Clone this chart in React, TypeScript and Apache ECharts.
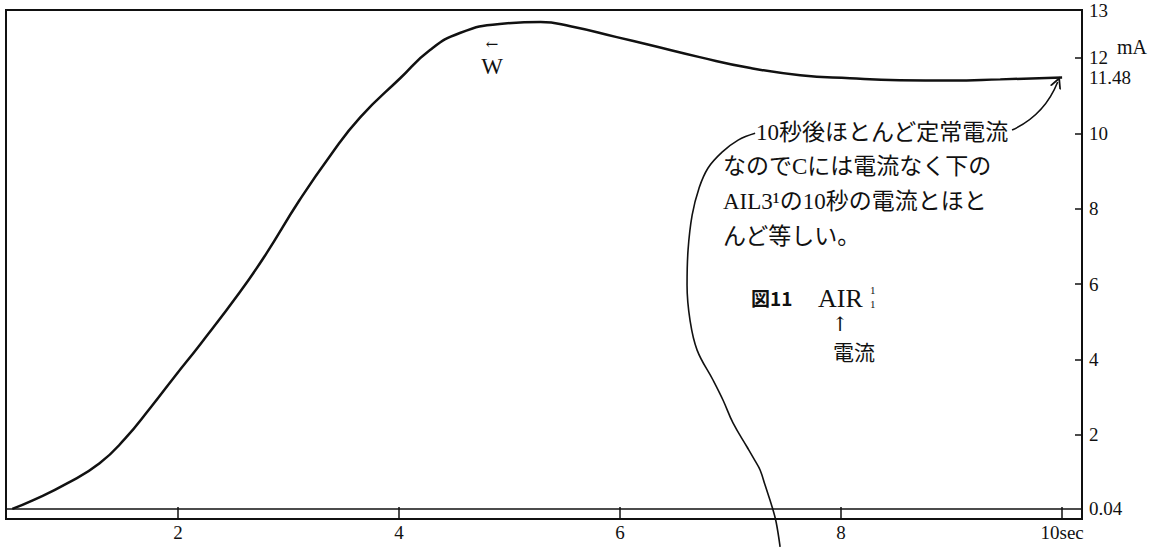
import React, { useEffect, useRef } from "react";
import * as echarts from "echarts";

// Current through AIR (mA) against time (sec)
const timeSec = [0.5, 0.69, 1.0, 1.29, 1.52, 1.75, 1.97, 2.2, 2.56, 2.79, 3.1, 3.38, 3.65, 4.01, 4.28, 4.55, 4.91, 5.28, 5.55, 5.97, 6.27, 6.72, 7.18, 7.63, 8.08, 8.53, 8.99, 9.44, 10.0];
const currentMA = [0.04, 0.27, 0.72, 1.25, 1.9, 2.72, 3.55, 4.4, 5.79, 6.77, 8.23, 9.42, 10.43, 11.46, 12.21, 12.66, 12.9, 12.95, 12.84, 12.55, 12.34, 12.02, 11.73, 11.54, 11.46, 11.41, 11.4, 11.43, 11.48];

// Hand-drawn leader line from the note down past the time axis
const leaderX = [7.222, 7.068, 6.923, 6.796, 6.715, 6.652, 6.615, 6.606, 6.633, 6.697, 6.842, 6.932, 7.023, 7.149, 7.222, 7.267, 7.312, 7.376, 7.412, 7.448];
const leaderY = [10.0, 9.82, 9.5, 9.08, 8.55, 7.83, 6.9, 5.97, 5.04, 4.25, 3.45, 2.92, 2.31, 1.68, 1.31, 1.07, 0.67, 0.09, -0.31, -0.97];

// Curved arrow from the note to the 10 sec value
const arrowFrom = [9.547, 10.085];
const arrowTo = [9.96, 11.36];

const xTicks = [2, 4, 6, 8, 10];
const yTicks = [2, 4, 6, 8, 10, 12];
const yLabels = [0.04, 2, 4, 6, 8, 10, 11.48, 12, 13.27];
const baseline = 0.04;

const SERIF = "'Liberation Serif', 'DejaVu Serif', serif";
const JP = "'Liberation Serif', 'Noto Sans CJK JP', serif";

const noteLines = [
  "10秒後ほとんど定常電流",
  "なのでCには電流なく下の",
  "AIL3¹の10秒の電流とほと",
  "んど等しい。",
];

export default function App() {
  const ref = useRef<HTMLDivElement>(null);

  useEffect(() => {
    if (!ref.current) return;
    const chart = echarts.init(ref.current, undefined, { renderer: "svg" });

    const txt = (text: string, x: number, y: number, extra: any = {}) => ({
      type: "text",
      x,
      y,
      silent: true,
      style: {
        text,
        fill: "#111",
        fontFamily: JP,
        fontSize: 23,
        align: "left",
        verticalAlign: "middle",
        ...extra,
      },
    });

    chart.setOption({
      animation: false,
      backgroundColor: "#fff",
      grid: {
        left: 6,
        right: 82,
        top: 10,
        bottom: 29,
        show: true,
        borderColor: "#111",
        borderWidth: 2,
        backgroundColor: "transparent",
      },
      xAxis: {
        type: "value",
        min: 0.443,
        max: 10.18,
        axisLine: { show: true, onZero: false, lineStyle: { color: "#111", width: 1.5 } },
        axisTick: {
          show: true,
          inside: true,
          length: 12,
          customValues: xTicks,
          lineStyle: { color: "#111", width: 1.5 },
        },
        axisLabel: {
          customValues: xTicks,
          formatter: (v: number) => (v === 10 ? "10sec" : String(v)),
          color: "#111",
          fontFamily: SERIF,
          fontSize: 19,
          margin: 4,
        },
        splitLine: { show: false },
      },
      yAxis: {
        type: "value",
        position: "right",
        min: -0.23,
        max: 13.27,
        axisLine: { show: true, onZero: false, lineStyle: { color: "#111", width: 1.5 } },
        axisTick: {
          show: true,
          inside: true,
          length: 7,
          customValues: yTicks,
          lineStyle: { color: "#111", width: 1.5 },
        },
        axisLabel: {
          customValues: yLabels,
          formatter: (v: number) => (v > 13 ? "13" : String(v)),
          color: "#111",
          fontFamily: SERIF,
          fontSize: 19,
          margin: 7,
        },
        splitLine: { show: false },
      },
      series: [
        {
          type: "line",
          data: timeSec.map((t, i) => [t, currentMA[i]]),
          smooth: 0.5,
          showSymbol: false,
          lineStyle: { color: "#111", width: 2.5 },
          markLine: {
            silent: true,
            symbol: "none",
            label: { show: false },
            lineStyle: { color: "#111", width: 1.5, type: "solid" },
            data: [{ yAxis: baseline }],
          },
        },
        {
          type: "line",
          data: leaderX.map((x, i) => [x, leaderY[i]]),
          smooth: 0.4,
          clip: false,
          showSymbol: false,
          lineStyle: { color: "#111", width: 1.6 },
        },
        {
          type: "lines",
          coordinateSystem: "cartesian2d",
          symbol: ["none", "path://M0,12 L5,0 L10,12 L8.4,12 L5,4 L1.6,12 Z"],
          symbolSize: [11, 12],
          lineStyle: { color: "#111", width: 1.6, curveness: -0.2, opacity: 1 },
          data: [{ coords: [arrowFrom, arrowTo] }],
        },
      ],
      graphic: [
        txt("mA", 1117, 47, { fontFamily: SERIF, fontSize: 20 }),
        txt("←", 492, 44, { fontFamily: "'DejaVu Serif', serif", fontSize: 15, align: "center" }),
        txt("W", 492, 66, { fontFamily: SERIF, fontSize: 23, align: "center" }),
        txt(noteLines[0], 756, 132),
        txt(noteLines[1], 723, 166),
        txt(noteLines[2], 723, 201),
        txt(noteLines[3], 723, 236),
        txt("図11", 751, 297, { fontFamily: "'Noto Sans CJK JP', sans-serif", fontWeight: "bold", fontSize: 19 }),
        txt("AIR", 818, 298, { fontFamily: SERIF, fontSize: 26 }),
        txt("1", 870, 290, { fontFamily: SERIF, fontSize: 11 }),
        txt("1", 870, 304, { fontFamily: SERIF, fontSize: 11 }),
        txt("↑", 840, 324, { fontFamily: "'DejaVu Serif', serif", fontSize: 20, align: "center" }),
        txt("電流", 854, 353, { fontFamily: JP, fontSize: 21, align: "center" }),
      ],
    });

    return () => chart.dispose();
  }, []);

  return (
    <div
      ref={ref}
      style={{ position: "fixed", left: 0, top: 0, width: 1164, height: 548, background: "#fff" }}
    />
  );
}
